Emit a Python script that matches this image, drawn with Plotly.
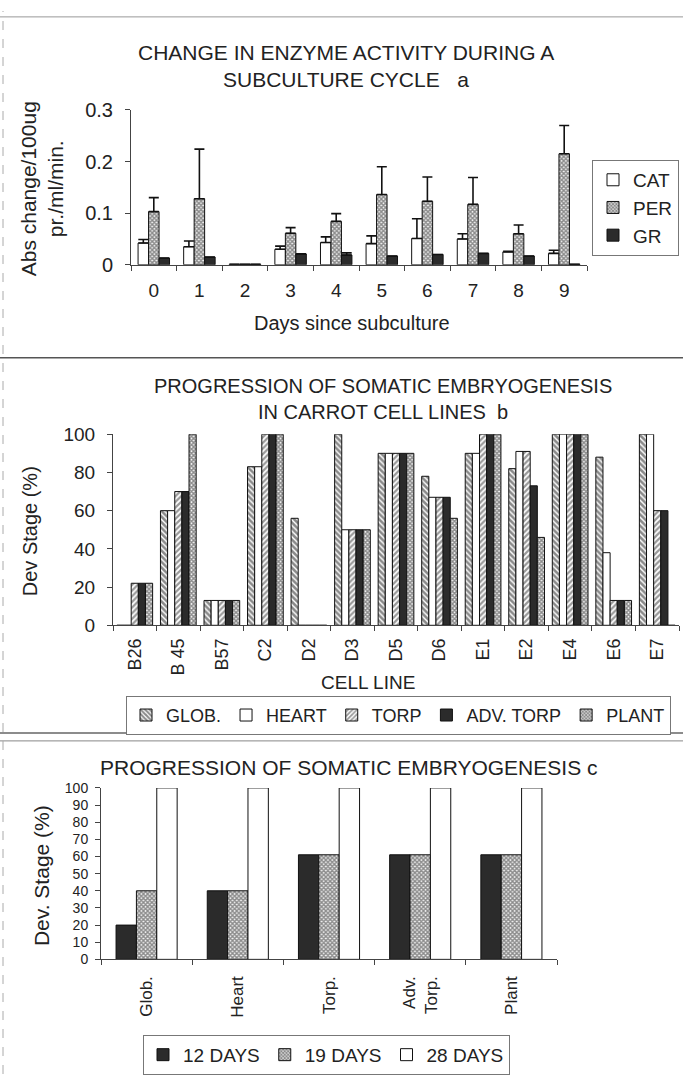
import plotly.graph_objects as go

W, H = 683, 1085
FONT = "Liberation Sans, Arial, sans-serif"
INK = "#222222"

# ---------------- Panel a data ----------------
days = ["0", "1", "2", "3", "4", "5", "6", "7", "8", "9"]
cat_vals = [0.042, 0.035, 0.001, 0.030, 0.043, 0.041, 0.051, 0.050, 0.025, 0.022]
cat_err = [0.007, 0.011, 0.0, 0.006, 0.011, 0.015, 0.038, 0.010, 0.001, 0.006]
per_vals = [0.103, 0.128, 0.001, 0.061, 0.084, 0.136, 0.123, 0.117, 0.060, 0.215]
per_err = [0.027, 0.096, 0.0, 0.011, 0.015, 0.054, 0.047, 0.052, 0.017, 0.055]
gr_vals = [0.013, 0.015, 0.001, 0.021, 0.019, 0.017, 0.020, 0.022, 0.017, 0.001]
gr_err = [0.0, 0.0, 0.0, 0.0, 0.004, 0.0, 0.0, 0.0, 0.0, 0.0]
a_ticks = [0, 0.1, 0.2, 0.3]
a_ticktext = ["0", "0.1", "0.2", "0.3"]

# ---------------- Panel b data ----------------
cell_lines = ["B26", "B 45", "B57", "C2", "D2", "D3", "D5", "D6", "E1", "E2", "E4", "E6", "E7"]
glob_b = [0, 60, 13, 83, 56, 100, 90, 78, 90, 82, 100, 88, 100]
heart_b = [0, 60, 13, 83, 0, 50, 90, 67, 90, 91, 100, 38, 100]
torp_b = [22, 70, 13, 100, 0, 50, 90, 67, 100, 91, 100, 13, 60]
advtorp_b = [22, 70, 13, 100, 0, 50, 90, 67, 100, 73, 100, 13, 60]
plant_b = [22, 100, 13, 100, 0, 50, 90, 56, 100, 46, 100, 13, 0]
b_ticks = [0, 20, 40, 60, 80, 100]

# ---------------- Panel c data ----------------
stages = ["Glob.", "Heart", "Torp.", "Adv.<br>Torp.", "Plant"]
d12 = [20, 40, 61, 61, 61]
d19 = [40, 40, 61, 61, 61]
d28 = [100, 100, 100, 100, 100]
c_ticks = list(range(0, 101, 10))


def px_x(p):
    return p / W


def px_y(p):
    return 1 - p / H


fig = go.Figure()


def add_group(series, names, styles, xref, yref, legend, frac, errs=None):
    n = len(series)
    w = frac / n
    for i, (vals, name, st) in enumerate(zip(series, names, styles)):
        kw = {}
        if errs is not None and errs[i] is not None:
            kw["error_y"] = dict(type="data", array=errs[i], arrayminus=[0] * len(errs[i]),
                                 symmetric=False, color="#111", thickness=1.6, width=5)
        fig.add_trace(go.Bar(
            x=xref[1], y=vals, name=name, xaxis=xref[0], yaxis=yref,
            width=w, offset=-frac / 2 + i * w,
            marker=dict(color=st.get("color", "white"),
                        line=dict(color="#111", width=1),
                        pattern=st.get("pattern", dict(shape=""))),
            legend=legend, legendgroup=legend + name, **kw))


WHITE = dict(color="white")
DARK = dict(color="#2b2b2b")
CHECK = dict(color="white", pattern=dict(shape="x", size=3, solidity=0.7, fgcolor="#222", bgcolor="#f4f4f4"))
BSL = dict(color="white", pattern=dict(shape="\\", size=4, solidity=0.65, fgcolor="#151515", bgcolor="white"))
FSL = dict(color="white", pattern=dict(shape="/", size=4, solidity=0.55, fgcolor="#333", bgcolor="white"))

add_group([cat_vals, per_vals, gr_vals], ["CAT", "PER", "GR"], [WHITE, CHECK, DARK],
          ("x", days), "y", "legend", 0.69, errs=[cat_err, per_err, gr_err])
add_group([glob_b, heart_b, torp_b, advtorp_b, plant_b],
          ["GLOB.", "HEART", "TORP", "ADV. TORP", "PLANT"],
          [BSL, WHITE, FSL, DARK, CHECK], ("x2", cell_lines), "y2", "legend2", 0.82)
add_group([d12, d19, d28], ["12 DAYS", "19 DAYS", "28 DAYS"], [DARK, CHECK, WHITE],
          ("x3", stages), "y3", "legend3", 0.67)

axis_common = dict(showline=True, linecolor="#444", linewidth=1, ticks="outside",
                   tickcolor="#444", ticklen=5, showgrid=False, zeroline=False,
                   tickfont=dict(family=FONT, color=INK))

fig.update_layout(
    width=W, height=H, margin=dict(l=0, r=0, t=0, b=0),
    paper_bgcolor="white", plot_bgcolor="white", barmode="overlay",
    font=dict(family=FONT, color=INK),
    xaxis=dict(axis_common, domain=[px_x(131), px_x(587)], anchor="y", type="category",
               tickson="boundaries", tickfont=dict(family=FONT, size=19, color=INK),
               range=[-0.5, 9.5], ticklabelstandoff=8),
    yaxis=dict(axis_common, domain=[px_y(259), px_y(101)], anchor="x", range=[0, 0.3],
               tickvals=a_ticks, ticktext=a_ticktext, tickfont=dict(family=FONT, size=20, color=INK),
               ticklabelstandoff=8),
    xaxis2=dict(axis_common, domain=[px_x(113), px_x(679)], anchor="y2", type="category",
                tickson="boundaries", tickangle=-90, tickfont=dict(family=FONT, size=18, color=INK),
                range=[-0.5, 12.5], ticklabelstandoff=5),
    yaxis2=dict(axis_common, domain=[px_y(627), px_y(432)], anchor="x2", range=[0, 100],
                tickvals=b_ticks, tickfont=dict(family=FONT, size=19, color=INK), ticklabelstandoff=8),
    xaxis3=dict(axis_common, domain=[px_x(101), px_x(557)], anchor="y3", type="category",
                tickson="boundaries", tickangle=-90, tickfont=dict(family=FONT, size=17, color=INK),
                range=[-0.5, 4.5], ticklabelstandoff=9),
    yaxis3=dict(axis_common, domain=[px_y(968), px_y(793)], anchor="x3", range=[0, 100],
                tickvals=c_ticks, tickfont=dict(family=FONT, size=14, color=INK), ticklabelstandoff=4),
    legend=dict(x=px_x(679), y=px_y(152), xanchor="right", yanchor="top",
                bordercolor="#777", borderwidth=1, bgcolor="white",
                font=dict(family=FONT, size=19, color=INK), tracegroupgap=0, itemwidth=30),
    legend2=dict(orientation="h", x=px_x(126), y=px_y(699), xanchor="left", yanchor="top",
                 bordercolor="#777", borderwidth=1, bgcolor="white",
                 font=dict(family=FONT, size=18, color=INK), itemwidth=30, tracegroupgap=0),
    legend3=dict(orientation="h", x=px_x(143), y=px_y(1045), xanchor="left", yanchor="top",
                 bordercolor="#777", borderwidth=1, bgcolor="white",
                 font=dict(family=FONT, size=19, color=INK), itemwidth=30, tracegroupgap=0),
    showlegend=True,
)


def ann(text, x, y, size, angle=0):
    fig.add_annotation(text=text, x=px_x(x), y=px_y(y), xref="paper", yref="paper",
                       showarrow=False, textangle=angle, xanchor="center", yanchor="middle",
                       font=dict(family=FONT, size=size, color=INK))


ann("CHANGE IN ENZYME ACTIVITY DURING A", 346, 42, 21)
ann("SUBCULTURE CYCLE   a", 346, 70, 21)
ann("Abs change/100ug<br>pr./ml/min.", 42, 182, 21, -90)
ann("Days since subculture", 352, 318, 20)

ann("PROGRESSION OF SOMATIC EMBRYOGENESIS", 383, 383, 20)
ann("IN CARROT CELL LINES  b", 383, 409, 20)
ann("Dev Stage (%)", 30, 531, 20, -90)
ann("CELL LINE", 368, 685, 19)

ann("PROGRESSION OF SOMATIC EMBRYOGENESIS c", 348, 772, 21)
ann("Dev. Stage (%)", 41, 883, 21, -90)

# scan frame lines
for y0, col, wd in [(6, "#999", 1), (354, "#555", 1.5), (737, "#666", 1.5), (745, "#888", 1)]:
    fig.add_shape(type="line", xref="paper", yref="paper", x0=0, x1=1, y0=px_y(y0), y1=px_y(y0),
                  line=dict(color=col, width=wd))
fig.add_shape(type="line", xref="paper", yref="paper", x0=px_x(3), x1=px_x(3), y0=0, y1=1,
              line=dict(color="#aaa", width=1, dash="dash"))

fig.write_html(
    "out.html",
    config={"displayModeBar": False},
    post_script="document.body.style.margin='0';document.body.style.overflow='hidden';",
)
